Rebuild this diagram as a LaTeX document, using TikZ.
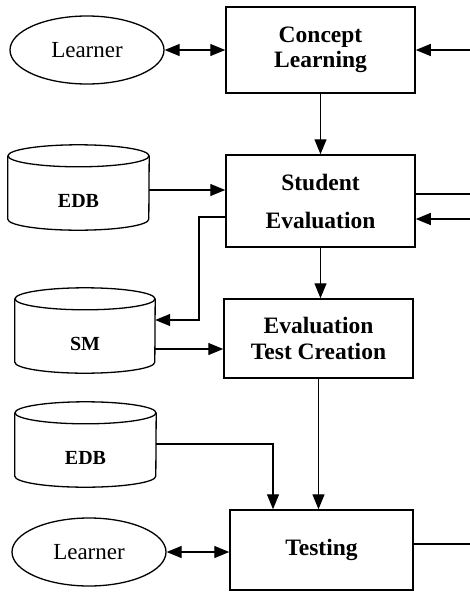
\documentclass[tikz,border=0pt]{standalone}
\usepackage{fontspec}
\setmainfont{Liberation Serif}
\usetikzlibrary{arrows.meta,shapes.geometric}

\tikzset{
  box/.style={draw, line width=1.5pt, inner sep=0pt, align=center,
    font=\fontsize{23.5}{25}\selectfont\bfseries},
  actor/.style={ellipse, draw, line width=1.3pt, inner sep=0pt,
    minimum width=154pt, minimum height=68pt, font=\fontsize{23}{24}\selectfont},
  store/.style={inner sep=0pt, text height=28pt, text depth=0pt,
    font=\fontsize{20}{21}\selectfont\bfseries},
  tip/.tip={Triangle[length=15pt,width=12pt]},
  link/.style={line width=1.3pt},
  flow/.style={link, -tip},
  both/.style={link, tip-tip},
}

% database cylinder around a node whose north is the top ellipse centre
\newcommand{\storeshape}[2]{%
  \draw[line width=1.3pt] (#1.north west) -- ([yshift=11pt]#1.south west)
    arc[start angle=180, end angle=360, x radius=#2, y radius=11pt]
    -- (#1.north east);
  \draw[line width=1.3pt] (#1.north) ellipse [x radius=#2, y radius=11pt];
}

\begin{document}
\begin{tikzpicture}[x=1pt, y=-1pt]
\useasboundingbox (0,0) rectangle (470,592);

% process boxes
\node[box, minimum width=189pt, minimum height=86pt] (cl) at (320.5,50) {Concept\\Learning};
\node[box, minimum width=189pt, minimum height=92pt] (se) at (320.5,201) {Student\\[13pt]Evaluation};
\node[box, minimum width=189pt, minimum height=79pt] (etc) at (318.5,338.5) {Evaluation\\[1pt]Test Creation};
\node[box, minimum width=183pt, minimum height=80pt] (test) at (321.5,550) {Testing};

% learners
\node[actor] (learner1) at (87,50) {Learner};
\node[actor] (learner2) at (89,552) {Learner};

% data stores
\node[store, minimum width=141pt, minimum height=74pt] (edb1) at (78.5,193) {EDB};
\node[store, minimum width=140pt, minimum height=74pt] (sm) at (85,336) {SM};
\node[store, minimum width=141pt, minimum height=74pt] (edb2) at (85.5,450) {EDB};
\storeshape{edb1}{70.5pt}
\storeshape{sm}{70pt}
\storeshape{edb2}{70.5pt}

% routing points
\coordinate (r1) at (470,50);
\coordinate (r2) at (470,194);
\coordinate (r3) at (470,219);
\coordinate (r4) at (470,544);
\coordinate (y1) at (0,190);
\coordinate (k1) at (199,217);
\coordinate (k2) at (199,320);
\coordinate (y2) at (0,349);
\coordinate (k3) at (273,444);

% connectors
\draw[both] (learner1.east) -- (cl.west);
\draw[flow] (r1) -- (cl.east);
\draw[flow] (cl.south) -- (se.north);
\draw[flow] (edb1.east |- y1) -- (se.west |- y1);
\draw[link] (se.east |- r2) -- (r2);
\draw[flow] (r3) -- (se.east |- r3);
\draw[flow] (se.west |- k1) -- (k1) -- (k2) -- (sm.east |- k2);
\draw[flow] (se.south) -- (se.south |- etc.north);
\draw[flow] (sm.east |- y2) -- (etc.west |- y2);
\draw[flow] (etc.south) -- (etc.south |- test.north);
\draw[flow] (edb2.east |- k3) -- (k3) -- (k3 |- test.north);
\draw[both] (learner2.east) -- (test.west |- learner2.east);
\draw[link] (test.east |- r4) -- (r4);
\end{tikzpicture}
\end{document}
